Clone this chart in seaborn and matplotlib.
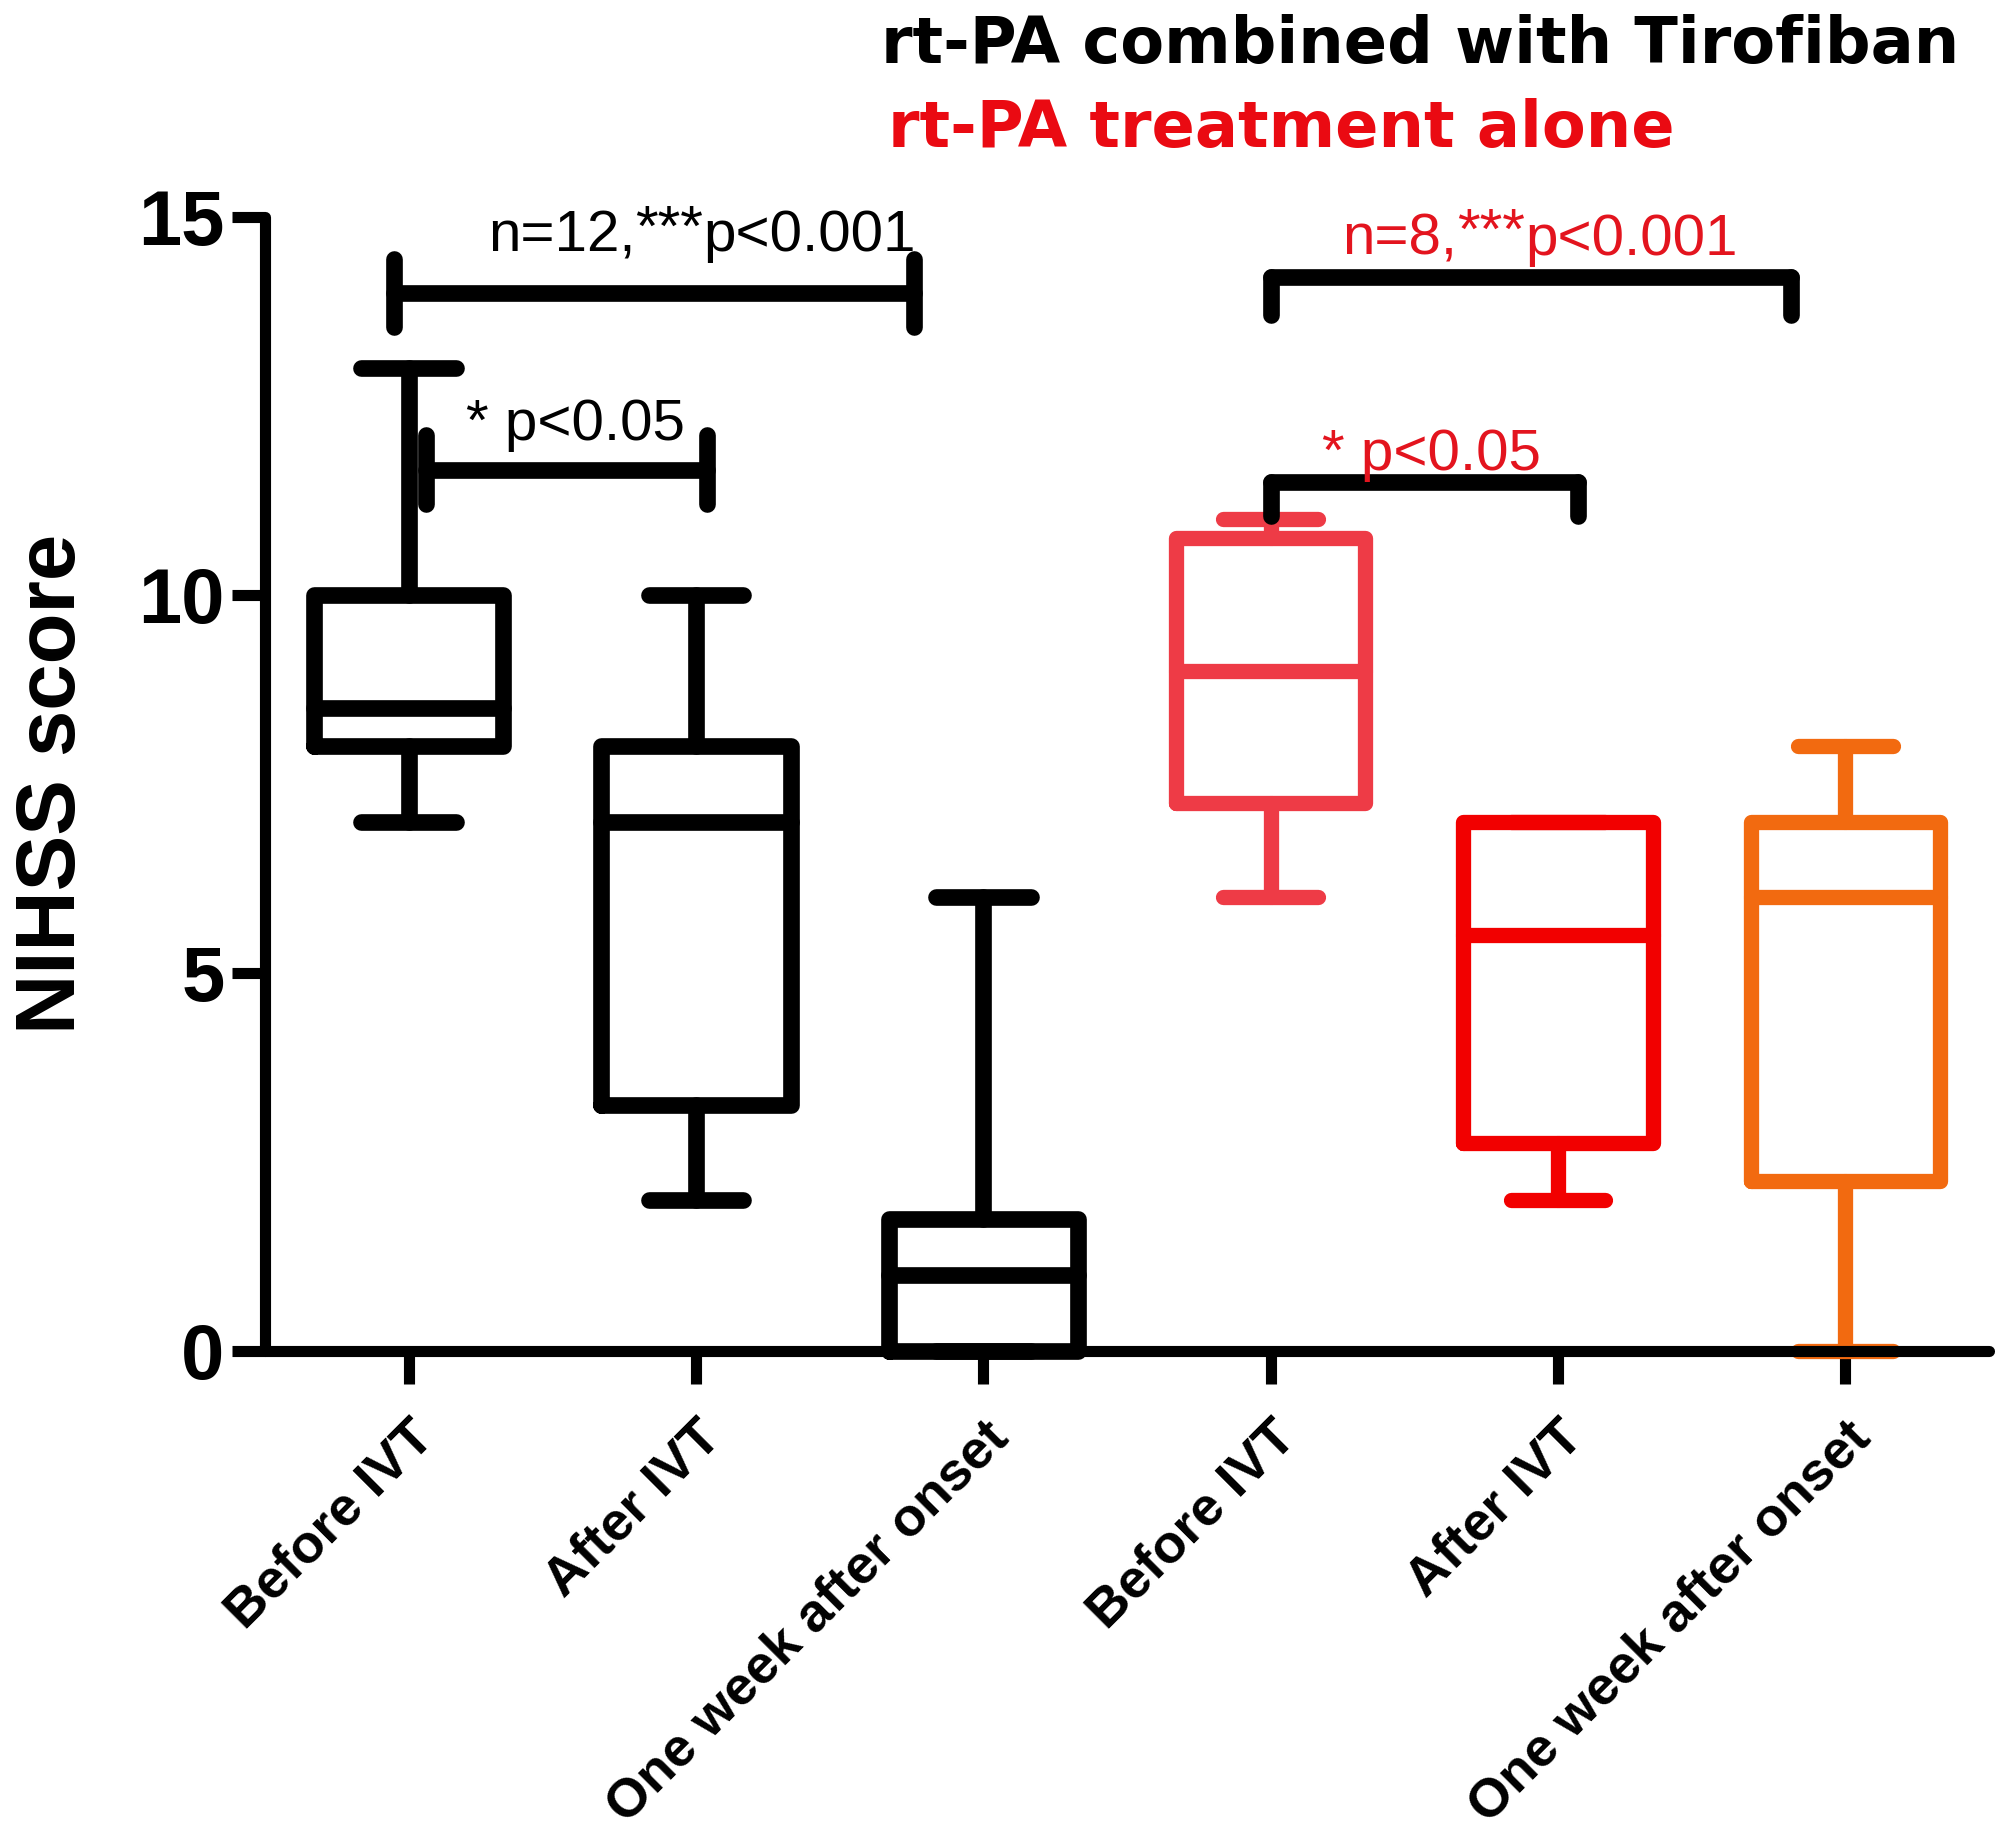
import numpy as np
import pandas as pd
import matplotlib
matplotlib.use("Agg")
import matplotlib.pyplot as plt
import seaborn as sns

# ---- data ----
group_keys = ["c1", "c2", "c3", "c4", "c5", "c6"]
tick_labels = ["Before IVT", "After IVT", "One week after onset",
               "Before IVT", "After IVT", "One week after onset"]
# five-number summaries: min, q1, median, q3, max
mins    = [7.0, 2.0, 0.0, 6.0, 2.0, 0.0]
q1s     = [8.0, 3.25, 0.0, 7.25, 2.75, 2.25]
medians = [8.5, 7.0, 1.0, 9.0, 5.5, 6.0]
q3s     = [10.0, 8.0, 1.75, 10.75, 7.0, 7.0]
maxs    = [13.0, 10.0, 6.0, 11.0, 7.0, 8.0]
box_colors = ["#000000", "#000000", "#000000", "#EE3B46", "#F20000", "#F26A10"]

yticks = [0, 5, 10, 15]
title_black = "rt-PA combined with Tirofiban"
title_red = "rt-PA treatment alone"
ylabel = "NIHSS score"

rows = []
for k, a, b, c, d, e in zip(group_keys, mins, q1s, medians, q3s, maxs):
    for v in (a, b, c, d, e):
        rows.append({"grp": k, "score": v})
df = pd.DataFrame(rows)
pal = dict(zip(group_keys, box_colors))

sns.set_style("ticks")
plt.rcParams["font.family"] = ["Liberation Sans", "DejaVu Sans"]
for key in ["text.color", "axes.labelcolor", "xtick.color", "ytick.color",
            "xtick.labelcolor", "ytick.labelcolor", "axes.edgecolor"]:
    plt.rcParams[key] = "black"

fig = plt.figure(figsize=(19.95, 18.41), dpi=100)
ax = fig.add_axes([265 / 1995, 1 - 1351 / 1841, (1989 - 265) / 1995, (1351 - 217) / 1841])

for keys, lw in ((group_keys[:3], 12), (group_keys[3:], 11)):
    sub = df[df["grp"].isin(keys)]
    sns.boxplot(data=sub, x="grp", y="score", hue="grp", order=group_keys,
                hue_order=keys, palette={k: pal[k] for k in keys}, fill=False,
                whis=(0, 100), width=0.66, linewidth=lw, legend=False, ax=ax,
                showfliers=False)

for ln in ax.lines:
    ln.set_solid_capstyle("round")
    ln.set_solid_joinstyle("round")
    ln.set_clip_on(False)

ax.set_xlim(-0.5, 5.5)
ax.set_ylim(0, 15)
ax.set_yticks(yticks)
ax.set_yticklabels([str(t) for t in yticks], fontsize=56, fontweight="bold")
ax.set_xticks(range(len(group_keys)))
ax.set_xticklabels(tick_labels, rotation=45, ha="right", rotation_mode="anchor",
                   fontsize=39, fontweight="bold")
ax.tick_params(axis="both", direction="out", length=24, width=8, color="black")
ax.tick_params(axis="y", pad=5)
ax.tick_params(axis="x", pad=20)
ax.set_xlabel("")
ax.set_ylabel(ylabel, fontsize=60, fontweight="bold")
ax.yaxis.set_label_coords((92 - 265) / (1989 - 265), 0.5)
for s in ["top", "right"]:
    ax.spines[s].set_visible(False)
for s in ["left", "bottom"]:
    ax.spines[s].set_linewidth(8)
    ax.spines[s].set_color("black")
    ax.spines[s].set_capstyle("round")
ax.spines["left"].set_bounds(0, 15)

lw_br = 12
red_txt = "#E3141E"

def hbar(x0, x1, y, up, down):
    ax.plot([x0, x1], [y, y], color="black", lw=lw_br, solid_capstyle="round", clip_on=False)
    for x in (x0, x1):
        ax.plot([x, x], [y - down, y + up], color="black", lw=lw_br,
                solid_capstyle="round", clip_on=False)

# brackets
hbar(-0.05, 1.76, 14.0, 0.45, 0.45)
hbar(0.06, 1.04, 11.66, 0.45, 0.45)
hbar(3.0, 4.81, 14.2, 0.0, 0.5)
hbar(3.0, 4.07, 11.5, 0.0, 0.45)

def star_label(x_left, y_base, head, tail, color):
    t1 = ax.text(x_left, y_base, head, ha="left", va="baseline",
                 fontsize=42, color=color, clip_on=False)
    t2 = ax.annotate("***", xy=(1, 1), xycoords=t1, xytext=(0, 4),
                     textcoords="offset points", ha="left", va="top",
                     fontsize=42, color=color, annotation_clip=False)
    ax.annotate(tail, xy=(1, 0), xycoords=(t2, t1), ha="left", va="bottom",
                fontsize=42, color=color, annotation_clip=False)

star_label(0.276, 14.55, "n=12,", "p<0.001", "black")
star_label(3.25, 14.5, "n=8,", "p<0.001", red_txt)

ax.text(0.58, 12.05, "* p<0.05", ha="center", va="baseline",
        fontsize=42, color="black", clip_on=False)
ax.text(3.56, 11.65, "* p<0.05", ha="center", va="baseline",
        fontsize=42, color=red_txt, clip_on=False)

fig.text(881 / 1995, 1 - 63 / 1841, title_black, ha="left", va="baseline",
         fontsize=46, fontweight="bold", color="black", family="DejaVu Sans")
fig.text(888 / 1995, 1 - 147 / 1841, title_red, ha="left", va="baseline",
         fontsize=46, fontweight="bold", color="#EA0A12", family="DejaVu Sans")

fig.savefig("out.png", dpi=100, facecolor="white")
